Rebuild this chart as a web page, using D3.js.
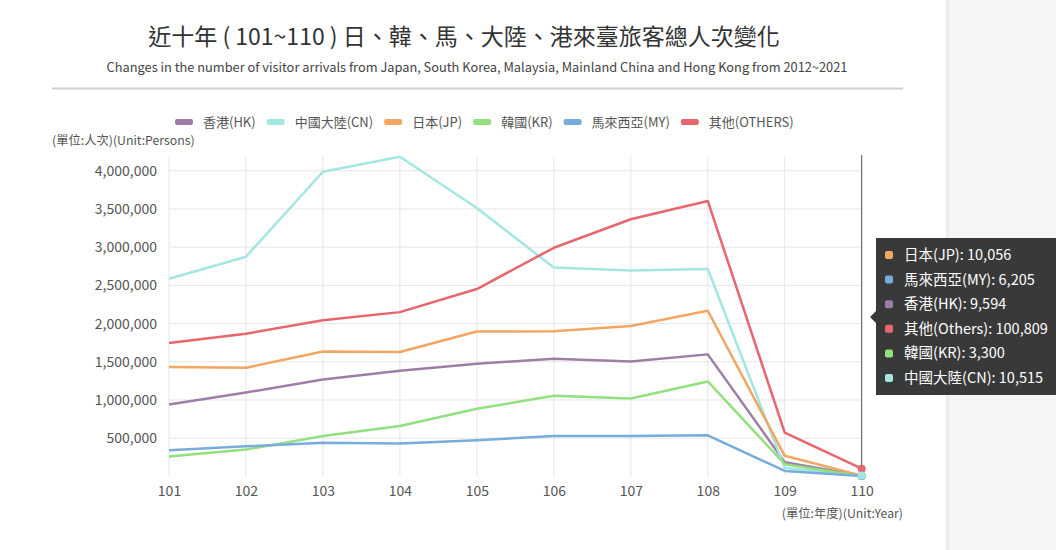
<!DOCTYPE html>
<html>
<head>
<meta charset="utf-8">
<script src="https://cdn.jsdelivr.net/npm/d3@7"></script>
<style>
  html, body { margin: 0; padding: 0; background: #fff; }
  svg { display: block; font-family: "Noto Sans CJK TC", "Noto Sans", sans-serif; }
</style>
</head>
<body>
<svg id="chart" width="1056" height="550"></svg>
<script>
// Visitor arrivals by year (ROC calendar 101~110)
const years = ["101", "102", "103", "104", "105", "106", "107", "108", "109", "110"];

const hk = [940000, 1098000, 1268000, 1383000, 1474000, 1540000, 1505000, 1597000, 185000, 9594];
const cn = [2586428, 2874702, 3987152, 4184102, 3511734, 2732549, 2695615, 2714065, 111050, 10515];
const jp = [1432315, 1421550, 1634790, 1627229, 1895702, 1898854, 1969151, 2167952, 269659, 10056];
const kr = [259089, 351301, 527684, 658757, 884397, 1054708, 1019441, 1242598, 160253, 3300];
const my = [341032, 394326, 439240, 431481, 474420, 528019, 528421, 537692, 72000, 6205];
const others = [1745000, 1868000, 2043000, 2150000, 2452000, 2992000, 3365000, 3605000, 572000, 100809];

const yTicks = [500000, 1000000, 1500000, 2000000, 2500000, 3000000, 3500000, 4000000];

const seriesNames = ["香港(HK)", "中國大陸(CN)", "日本(JP)", "韓國(KR)", "馬來西亞(MY)", "其他(OTHERS)"];
const seriesColors = ["#9c7ea6", "#a3e6e2", "#f3a661", "#93e07f", "#78acdd", "#e8666d"];
const seriesValues = [hk, cn, jp, kr, my, others];

// Tooltip rows for the hovered year
const tipNames = ["日本(JP)", "馬來西亞(MY)", "香港(HK)", "其他(Others)", "韓國(KR)", "中國大陸(CN)"];
const tipIndex = [2, 4, 0, 5, 3, 1];
const hoverYear = "110";

const title = "近十年 ( 101~110 ) 日、韓、馬、大陸、港來臺旅客總人次變化";
const subtitle = "Changes in the number of visitor arrivals from Japan, South Korea, Malaysia, Mainland China and Hong Kong from 2012~2021";

const svg = d3.select("#chart");
const fmt = d3.format(",");

// Side panel on the right
svg.append("rect").attr("x", 946).attr("y", 0).attr("width", 110).attr("height", 550).attr("fill", "#f5f5f5");
svg.append("rect").attr("x", 946).attr("y", 0).attr("width", 3).attr("height", 550).attr("fill", "#ececec");

// Titles
svg.append("text").attr("x", 464).attr("y", 45).attr("text-anchor", "middle")
  .attr("font-size", 23).attr("fill", "#333").text(title);
svg.append("text").attr("x", 477).attr("y", 72).attr("text-anchor", "middle")
  .attr("font-size", 12.8).attr("fill", "#444").text(subtitle);
svg.append("line").attr("x1", 52).attr("x2", 903).attr("y1", 88.5).attr("y2", 88.5)
  .attr("stroke", "#cfcfcf").attr("stroke-width", 2);

// Scales
const x = d3.scalePoint().domain(years).range([169, 861.7]);
const y = d3.scaleLinear().domain([0, d3.max(cn)]).range([476.4, 156.7]);

// Grid
const grid = svg.append("g");
grid.selectAll("line.h").data(yTicks).join("line")
  .attr("x1", 169).attr("x2", 861.7)
  .attr("y1", d => y(d)).attr("y2", d => y(d))
  .attr("stroke", "#e6e6e6").attr("stroke-width", 1);
grid.selectAll("line.v").data(years).join("line")
  .attr("x1", d => x(d)).attr("x2", d => x(d))
  .attr("y1", y.range()[1]).attr("y2", y.range()[0])
  .attr("stroke", "#e6e6e6").attr("stroke-width", 1);

// Axes (labels only)
const yAxis = svg.append("g").attr("transform", "translate(157,0)")
  .call(d3.axisLeft(y).tickValues(yTicks).tickFormat(fmt).tickSize(0).tickPadding(0));
yAxis.select(".domain").remove();
yAxis.selectAll("text").attr("font-size", 14).attr("fill", "#555")
  .attr("font-family", "\"Noto Sans CJK TC\", sans-serif");

const xAxis = svg.append("g").attr("transform", "translate(0,486)")
  .call(d3.axisBottom(x).tickSize(0).tickPadding(0));
xAxis.select(".domain").remove();
xAxis.selectAll("text").attr("font-size", 14).attr("fill", "#555")
  .attr("font-family", "\"Noto Sans CJK TC\", sans-serif");

svg.append("text").attr("x", 52).attr("y", 145).attr("font-size", 12.3).attr("fill", "#555")
  .text("(單位:人次)(Unit:Persons)");
svg.append("text").attr("x", 903).attr("y", 518).attr("text-anchor", "end")
  .attr("font-size", 12.3).attr("fill", "#555").text("(單位:年度)(Unit:Year)");

// Hover pointer line
svg.append("line").attr("x1", x(hoverYear)).attr("x2", x(hoverYear))
  .attr("y1", 155).attr("y2", y(0)).attr("stroke", "#555").attr("stroke-width", 1);

// Lines
const line = d3.line().x((d, i) => x(years[i])).y(d => y(d));
const lines = svg.append("g");
seriesValues.forEach((vals, k) => {
  lines.append("path").datum(vals).attr("d", line)
    .attr("fill", "none").attr("stroke", seriesColors[k]).attr("stroke-width", 2.5)
    .attr("stroke-linejoin", "round");
});

// Highlighted points at hovered year
const hi = years.indexOf(hoverYear);
[0, 2, 3, 4, 5, 1].forEach(k => {
  svg.append("circle").attr("cx", x(hoverYear)).attr("cy", y(seriesValues[k][hi]))
    .attr("r", 4).attr("fill", seriesColors[k]);
});

// Legend
const legend = svg.append("g").attr("font-size", 13).attr("fill", "#555");
let lx = 175;
seriesNames.forEach((name, k) => {
  legend.append("rect").attr("x", lx).attr("y", 119).attr("width", 18).attr("height", 6)
    .attr("rx", 2).attr("fill", seriesColors[k]);
  const t = legend.append("text").attr("x", lx + 28).attr("y", 126.5).text(name);
  lx += 28 + t.node().getComputedTextLength() + 11;
});

// Tooltip
const tip = svg.append("g");
tip.append("path")
  .attr("d", "M876,238 H1060 V395 H876 V323 L870,317 L876,311 Z")
  .attr("fill", "rgba(40,40,40,0.92)");
tipIndex.forEach((k, r) => {
  const cy = 255 + r * 24.6;
  tip.append("rect").attr("x", 885).attr("y", cy - 4).attr("width", 8).attr("height", 8)
    .attr("rx", 2).attr("fill", seriesColors[k]);
  tip.append("text").attr("x", 904).attr("y", cy + 5).attr("font-size", 14.5).attr("fill", "#fff")
    .text(tipNames[r] + ": " + fmt(seriesValues[k][hi]));
});
</script>
</body>
</html>
